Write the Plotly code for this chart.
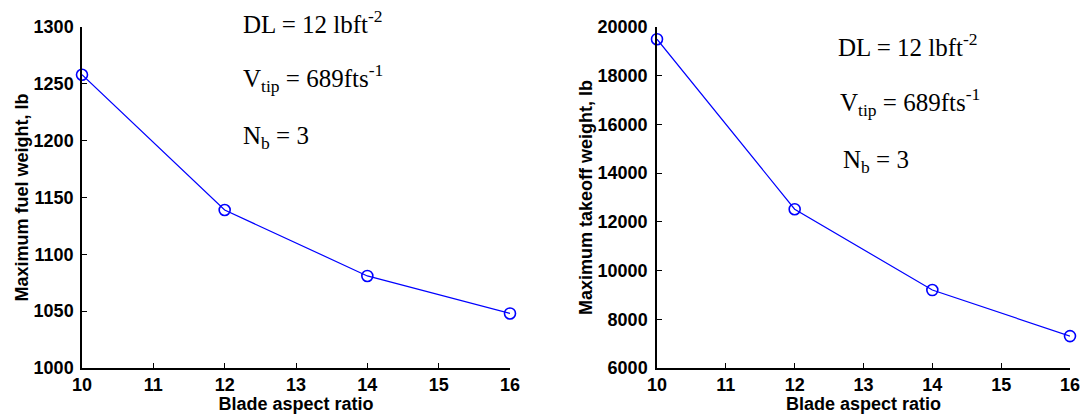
import plotly.graph_objects as go

# Blade aspect ratio sweep (DL = 12 lb/ft^2, Vtip = 689 ft/s, Nb = 3)
aspect_ratio = [10, 12, 14, 16]
fuel_weight = [1258, 1139, 1081, 1048]
takeoff_weight = [19500, 12520, 9200, 7310]

x_ticks = [10, 11, 12, 13, 14, 15, 16]
fuel_ticks = [1000, 1050, 1100, 1150, 1200, 1250, 1300]
takeoff_ticks = [6000, 8000, 10000, 12000, 14000, 16000, 18000, 20000]

BLUE = "#0000ff"
SANS = "Liberation Sans"
SERIF = "Liberation Serif"
tick_font = dict(family=SANS, size=18, color="black")
title_font = dict(family=SANS, size=18, color="black")
note_font = dict(family=SERIF, size=25, color="black")


def bold_labels(values):
    return [f"<b>{v}</b>" for v in values]


fig = go.Figure()

line_style = dict(color=BLUE, width=1.2)
marker_style = dict(symbol="circle-open", size=11, color=BLUE, line=dict(width=1.6, color=BLUE))

fig.add_trace(go.Scatter(x=aspect_ratio, y=fuel_weight, mode="lines+markers",
                         line=line_style, marker=marker_style, cliponaxis=False,
                         xaxis="x", yaxis="y", showlegend=False))
fig.add_trace(go.Scatter(x=aspect_ratio, y=takeoff_weight, mode="lines+markers",
                         line=line_style, marker=marker_style, cliponaxis=False,
                         xaxis="x2", yaxis="y2", showlegend=False))

W, H = 1086, 414

def px_x(v):
    return v / W

def px_y(v):
    return 1 - v / H

axis_common = dict(showline=True, linecolor="black", linewidth=1.5, mirror=False,
                   showgrid=False, zeroline=False, ticks="inside", ticklen=5,
                   tickwidth=1.2, tickcolor="black", tickfont=tick_font,
                   tickmode="array", automargin=False)

fig.update_layout(
    width=W, height=H,
    margin=dict(l=0, r=0, t=0, b=0),
    paper_bgcolor="white", plot_bgcolor="white",
    font=dict(family=SANS, size=18, color="black"),
    xaxis=dict(domain=[px_x(82), px_x(510)], range=[10, 16],
               tickvals=x_ticks, ticktext=bold_labels(x_ticks),
               title=dict(text="<b>Blade aspect ratio</b>", font=title_font, standoff=2),
               anchor="y", **axis_common),
    yaxis=dict(domain=[px_y(368), px_y(27)], range=[1000, 1300],
               tickvals=fuel_ticks, ticktext=bold_labels(fuel_ticks),
               ticklabelstandoff=3,
               title=dict(text="<b>Maximum fuel weight, lb</b>", font=title_font, standoff=0),
               anchor="x", **axis_common),
    xaxis2=dict(domain=[px_x(657), px_x(1070)], range=[10, 16],
                tickvals=x_ticks, ticktext=bold_labels(x_ticks),
                title=dict(text="<b>Blade aspect ratio</b>", font=title_font, standoff=2),
                anchor="y2", **axis_common),
    yaxis2=dict(domain=[px_y(368), px_y(27)], range=[6000, 20000],
                tickvals=takeoff_ticks, ticktext=bold_labels(takeoff_ticks),
                ticklabelstandoff=4,
                title=dict(text="<b>Maximum takeoff weight, lb</b>", font=title_font, standoff=0),
                anchor="x2", **axis_common),
)

notes = [
    ("DL = 12 lbft<sup>-2</sup>", 241, 22),
    ("V<sub>tip</sub> = 689fts<sup>-1</sup>", 241, 78),
    ("N<sub>b</sub> = 3", 241, 137),
    ("DL = 12 lbft<sup>-2</sup>", 836, 45),
    ("V<sub>tip</sub> = 689fts<sup>-1</sup>", 838, 102),
    ("N<sub>b</sub> = 3", 841, 162),
]
for text, x, y in notes:
    fig.add_annotation(text=text, x=px_x(x), y=px_y(y), xref="paper", yref="paper",
                       xanchor="left", yanchor="middle", showarrow=False, font=note_font)

fig.write_html("out.html")
